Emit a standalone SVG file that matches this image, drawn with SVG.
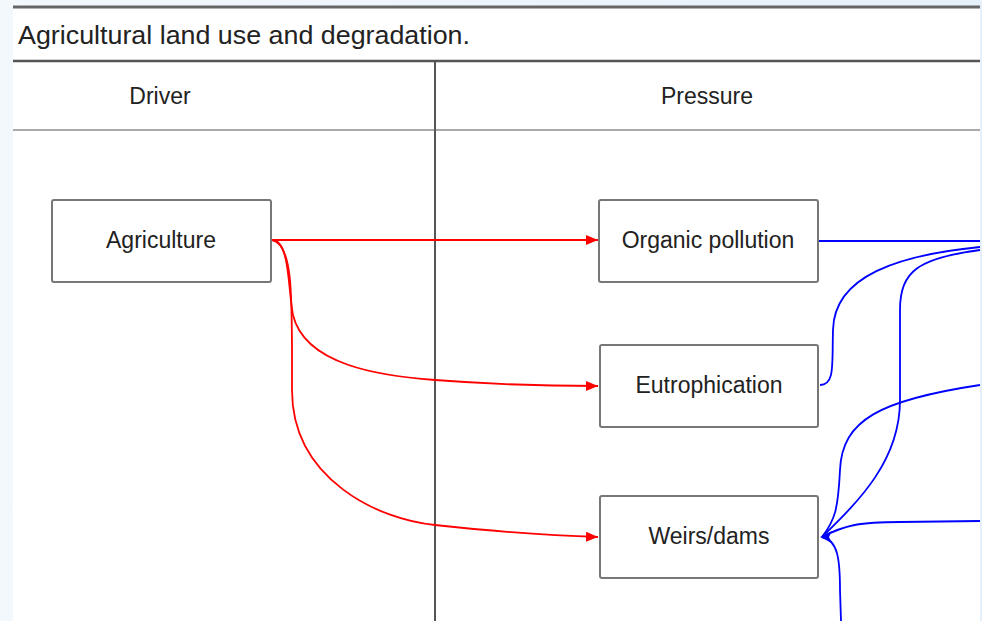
<svg xmlns="http://www.w3.org/2000/svg" width="982" height="621" viewBox="0 0 982 621">
<defs>
<style>
.lbl{font-family:"Liberation Sans",Arial,sans-serif;font-size:23px;fill:#222;text-anchor:middle;dominant-baseline:central}
.box{fill:#fff;stroke:#777;stroke-width:2}
.red{fill:none;stroke:#ff0000;stroke-width:1.8}
.blue{fill:none;stroke:#0000ff;stroke-width:1.8}
</style>
<linearGradient id="bg" x1="0" y1="0" x2="1" y2="0">
<stop offset="0" stop-color="#f3f8fd"/><stop offset="1" stop-color="#e6f0fa"/>
</linearGradient>
<marker id="ar" markerWidth="12" markerHeight="10" refX="12" refY="5" orient="auto" markerUnits="userSpaceOnUse">
<path d="M0,0 L12,5 L0,10 Z" fill="#ff0000"/>
</marker>
</defs>
<rect x="0" y="0" width="982" height="621" fill="url(#bg)"/>
<rect x="13" y="7" width="967" height="614" fill="#fff"/>
<line x1="13" y1="7" x2="980" y2="7" stroke="#666" stroke-width="3"/>
<text x="18" y="35" font-family="'Liberation Sans',Arial,sans-serif" font-size="26" fill="#222" dominant-baseline="central" textLength="452" lengthAdjust="spacingAndGlyphs">Agricultural land use and degradation.</text>
<line x1="13" y1="61" x2="980" y2="61" stroke="#555" stroke-width="2.5"/>
<line x1="13" y1="130" x2="980" y2="130" stroke="#aaa" stroke-width="2"/>
<line x1="435" y1="61" x2="435" y2="621" stroke="#555" stroke-width="2"/>
<text class="lbl" x="160" y="96">Driver</text>
<text class="lbl" x="707" y="96">Pressure</text>
<g id="connectors">
<path class="red" d="M272,240 L598,240" marker-end="url(#ar)"/>
<path class="red" d="M272,240 C290,240 288,290 293,315 C305,365 380,376 435,380 C500,385 560,386 598,386" marker-end="url(#ar)"/>
<path class="red" d="M272,240 C294,244 292,300 292,390 C292,480 380,520 435,525 C500,532 560,536 598,537" marker-end="url(#ar)"/>
<path class="blue" d="M819,241 L980,241"/>
<path class="blue" d="M820,385 C835,385 832,365 833,330 C834,275 900,255 980,247"/>
<path class="blue" d="M822,537 C835,520 838,510 840,470 C842,420 880,400 980,385"/>
<path class="blue" d="M822,537 C860,500 900,460 900,400 L900,310 C900,270 920,258 980,250"/>
<path class="blue" d="M822,537 C845,525 860,522 900,522 L980,521"/>
<path class="blue" d="M822,537 C838,540 840,560 840,590 L841,621"/>
<path d="M820,537 L832,531 L829,537 L832,543 Z" fill="#0000ff"/>
</g>
<g id="agriculture"><rect class="box" x="52" y="200" width="219" height="82" rx="2"/><text class="lbl" x="161" y="240">Agriculture</text></g>
<g id="organic"><rect class="box" x="599" y="200" width="219" height="82" rx="2"/><text class="lbl" x="708" y="240">Organic pollution</text></g>
<g id="eutrophication"><rect class="box" x="600" y="345" width="218" height="82" rx="2"/><text class="lbl" x="709" y="385">Eutrophication</text></g>
<g id="weirs"><rect class="box" x="600" y="496" width="218" height="82" rx="2"/><text class="lbl" x="709" y="536">Weirs/dams</text></g>
</svg>
